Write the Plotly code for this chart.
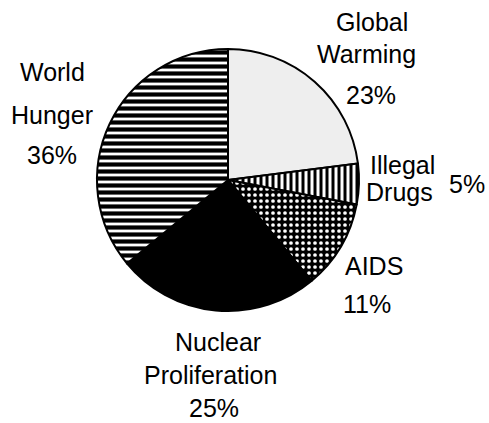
import plotly.graph_objects as go

categories = ["Global Warming", "Illegal Drugs", "AIDS", "Nuclear Proliferation", "World Hunger"]
values = [23, 5, 11, 25, 36]
pct_labels = ["23%", "5%", "11%", "25%", "36%"]

# label lines (text) and their positions in pixels (x from left, y from top)
label_lines = [
    ("Global", 372, 22), ("Warming", 366, 54), ("23%", 371, 95),
    ("Illegal", 402, 165), ("Drugs", 399, 192), ("5%", 467, 184),
    ("AIDS", 374, 266), ("11%", 367, 304),
    ("Nuclear", 218, 342), ("Proliferation", 210, 375), ("25%", 214, 408),
    ("World", 52, 72), ("Hunger", 52, 115), ("36%", 52, 155),
]

W, H = 489, 423
cx, cy, r = 228, 180, 131

fig = go.Figure(go.Pie(
    labels=categories,
    values=values,
    sort=False,
    direction="clockwise",
    rotation=0,
    textinfo="none",
    hoverinfo="label+percent",
    showlegend=False,
    marker=dict(
        colors=["#eeeeee", "white", "black", "black", "white"],
        line=dict(color="black", width=2),
        pattern=dict(
            shape=["", "|", ".", "", "-"],
            fgcolor=["black", "black", "white", "black", "black"],
            bgcolor=["#eeeeee", "white", "black", "black", "white"],
            size=[8, 6, 6, 8, 7],
            solidity=[0.3, 0.5, 0.3, 0.3, 0.6],
            fillmode="replace",
        ),
    ),
    domain=dict(x=[(cx - r) / W, (cx + r) / W], y=[(H - cy - r) / H, (H - cy + r) / H]),
))

annotations = []
for text, x, y in label_lines:
    annotations.append(dict(
        text=text, x=x / W, y=1 - y / H, xref="paper", yref="paper",
        xanchor="center", yanchor="middle", showarrow=False,
        font=dict(family="Liberation Sans, Arial, sans-serif", size=25, color="black"),
    ))

fig.update_layout(
    width=W, height=H,
    margin=dict(l=0, r=0, t=0, b=0),
    paper_bgcolor="white", plot_bgcolor="white",
    annotations=annotations,
)

fig.write_html(
    "out.html",
    config={"displayModeBar": False},
    post_script="document.body.style.margin='0';document.body.style.overflow='hidden';",
)
